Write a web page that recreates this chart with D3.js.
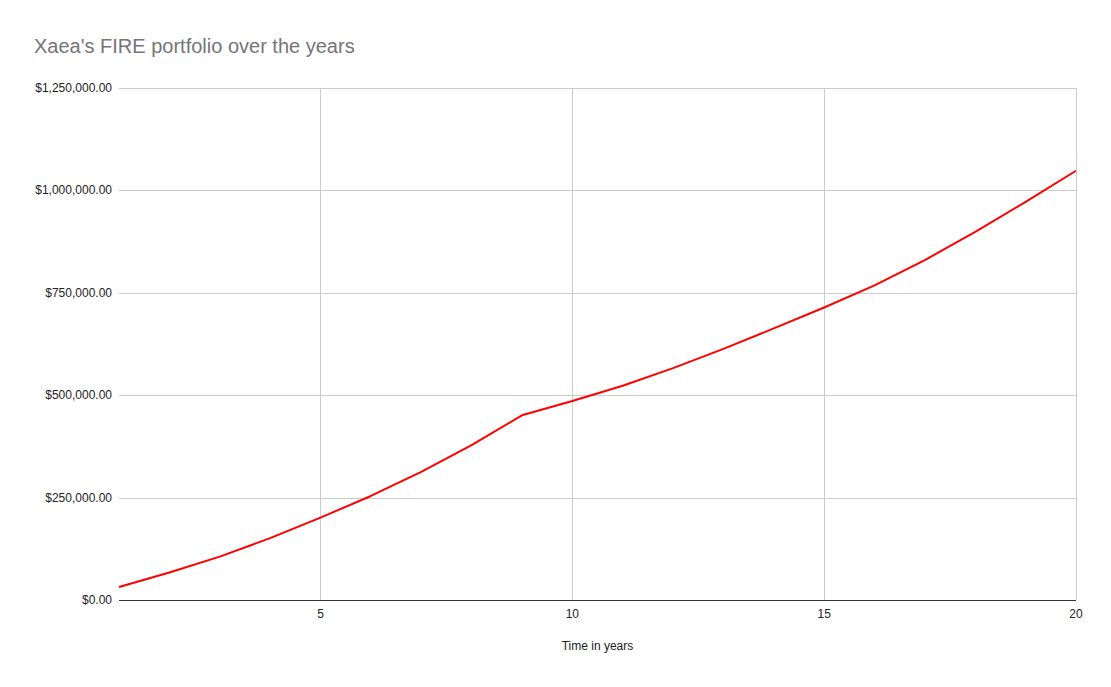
<!DOCTYPE html>
<html>
<head>
<meta charset="utf-8">
<script src="https://cdn.jsdelivr.net/npm/d3@7/dist/d3.min.js"></script>
<style>
  body { margin: 0; background: #fff; }
  svg { display: block; font-family: "Liberation Sans", Arial, sans-serif; }
</style>
</head>
<body>
<svg id="chart" width="1111" height="687"></svg>
<script>
const years = [1,2,3,4,5,6,7,8,9,10,11,12,13,14,15,16,17,18,19,20];
const portfolio = [31700, 67000, 106000, 151000, 201000, 254000, 313000, 378000, 451000, 486000,
                   523000, 566000, 613000, 663000, 714000, 768000, 830000, 899000, 972000, 1048000];
const yTicks = [0, 250000, 500000, 750000, 1000000, 1250000];
const xTicks = [5, 10, 15, 20];
const title = "Xaea's FIRE portfolio over the years";
const xTitle = "Time in years";

const svg = d3.select("#chart");
const m = { left: 119, right: 1076, top: 88, bottom: 600 };

const x = d3.scaleLinear().domain([1, 20]).range([m.left, m.right]);
const y = d3.scaleLinear().domain([0, 1250000]).range([m.bottom, m.top]);

const fmt = v => "$" + d3.format(",.2f")(v);

// horizontal gridlines
svg.append("g").selectAll("line").data(yTicks.filter(d => d !== 0)).join("line")
  .attr("x1", m.left).attr("x2", m.right)
  .attr("y1", d => Math.round(y(d)) + 0.5).attr("y2", d => Math.round(y(d)) + 0.5)
  .attr("stroke", "#cccccc").attr("stroke-width", 1);

// vertical gridlines
svg.append("g").selectAll("line").data(xTicks).join("line")
  .attr("x1", d => Math.round(x(d)) + 0.5).attr("x2", d => Math.round(x(d)) + 0.5)
  .attr("y1", m.top).attr("y2", m.bottom)
  .attr("stroke", "#cccccc").attr("stroke-width", 1);

// y labels
svg.append("g").selectAll("text").data(yTicks).join("text")
  .attr("x", 112).attr("y", d => y(d) + 4)
  .attr("text-anchor", "end").attr("font-size", 12).attr("fill", "#222")
  .text(fmt);

// x labels
svg.append("g").selectAll("text").data(xTicks).join("text")
  .attr("x", d => x(d)).attr("y", 618)
  .attr("text-anchor", "middle").attr("font-size", 12).attr("fill", "#222")
  .text(d => d);

// baseline
svg.append("line")
  .attr("x1", m.left).attr("x2", m.right)
  .attr("y1", y(0) + 0.5).attr("y2", y(0) + 0.5)
  .attr("stroke", "#333333").attr("stroke-width", 1);

// line
const line = d3.line().x((d, i) => x(years[i])).y(d => y(d));
svg.append("path").datum(portfolio)
  .attr("d", line)
  .attr("fill", "none").attr("stroke", "#ff0000").attr("stroke-width", 2)
  .attr("stroke-linejoin", "round");

// title
svg.append("text").attr("x", 34).attr("y", 53)
  .attr("font-size", 20).attr("fill", "#757575").text(title);

// x axis title
svg.append("text").attr("x", (m.left + m.right) / 2).attr("y", 650)
  .attr("text-anchor", "middle").attr("font-size", 12).attr("fill", "#222").text(xTitle);
</script>
</body>
</html>
